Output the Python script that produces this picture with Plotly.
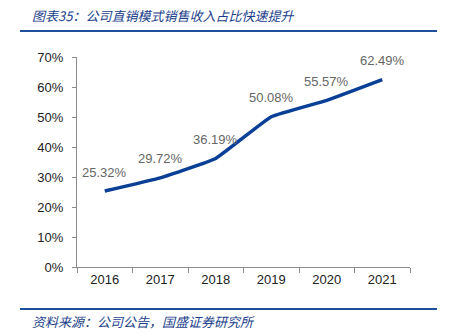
import plotly.graph_objects as go

years = ["2016", "2017", "2018", "2019", "2020", "2021"]
share = [25.32, 29.72, 36.19, 50.08, 55.57, 62.49]
labels = ["25.32%", "29.72%", "36.19%", "50.08%", "55.57%", "62.49%"]
y_ticks = [0, 10, 20, 30, 40, 50, 60, 70]
y_ticklabels = ["0%", "10%", "20%", "30%", "40%", "50%", "60%", "70%"]

title_text = "图表35：公司直销模式销售收入占比快速提升"
source_text = "资料来源：公司公告，国盛证券研究所"

num_font = "Liberation Sans, Arial, sans-serif"

fig = go.Figure()
fig.add_trace(go.Scatter(
    x=years, y=share, mode="lines",
    line=dict(color="#0a3f96", width=3.5, shape="spline", smoothing=0.3),
    hoverinfo="skip",
))

# data labels: category axis positions are the category indices
for i, (yv, lab) in enumerate(zip(share, labels)):
    fig.add_annotation(
        x=i, y=yv, xref="x", yref="y", text=lab, showarrow=False,
        yshift=19, xanchor="center", yanchor="middle",
        font=dict(family=num_font, size=13, color="#666666"),
    )

fig.update_layout(
    width=452, height=334,
    margin=dict(l=77, r=42, t=57, b=67),
    paper_bgcolor="white", plot_bgcolor="white",
    showlegend=False,
    xaxis=dict(
        type="category", showgrid=False, showline=True, linecolor="#8c8c8c", linewidth=1,
        ticks="outside", tickson="boundaries", ticklen=5, tickcolor="#8c8c8c",
        tickfont=dict(family=num_font, size=13, color="#222222"),
        range=[-0.5, 5.5],
    ),
    yaxis=dict(
        range=[0, 70], tickvals=y_ticks, ticktext=y_ticklabels,
        showgrid=False, showline=True, linecolor="#8c8c8c", linewidth=1,
        ticks="outside", ticklen=4, tickcolor="#8c8c8c", zeroline=False,
        ticklabelstandoff=6,
        tickfont=dict(family=num_font, size=13, color="#222222"),
    ),
    font=dict(family="Noto Sans CJK SC"),
)

# convert pixel positions to paper coords for header/footer
W, H = 452, 334
l, r, t, b = 77, 42, 57, 67
pw, ph = W - l - r, H - t - b

def px(xp):
    return (xp - l) / pw

def py(yp):
    return (H - b - yp) / ph

fig.add_annotation(
    x=px(30), y=py(15), xref="paper", yref="paper", text="<i>" + title_text + "</i>",
    showarrow=False, xanchor="left", yanchor="middle",
    font=dict(family="Noto Sans CJK SC", size=13, color="#1c3f8c"),
)
fig.add_annotation(
    x=px(30), y=py(321), xref="paper", yref="paper", text="<i>" + source_text + "</i>",
    showarrow=False, xanchor="left", yanchor="middle",
    font=dict(family="Noto Sans CJK SC", size=13, color="#1c3f8c"),
)

for yline in (31, 309):
    fig.add_shape(type="line", xref="paper", yref="paper",
                  x0=px(20), x1=px(437), y0=py(yline), y1=py(yline),
                  line=dict(color="#1c4f9c", width=2))

fig.write_html("out.html")
